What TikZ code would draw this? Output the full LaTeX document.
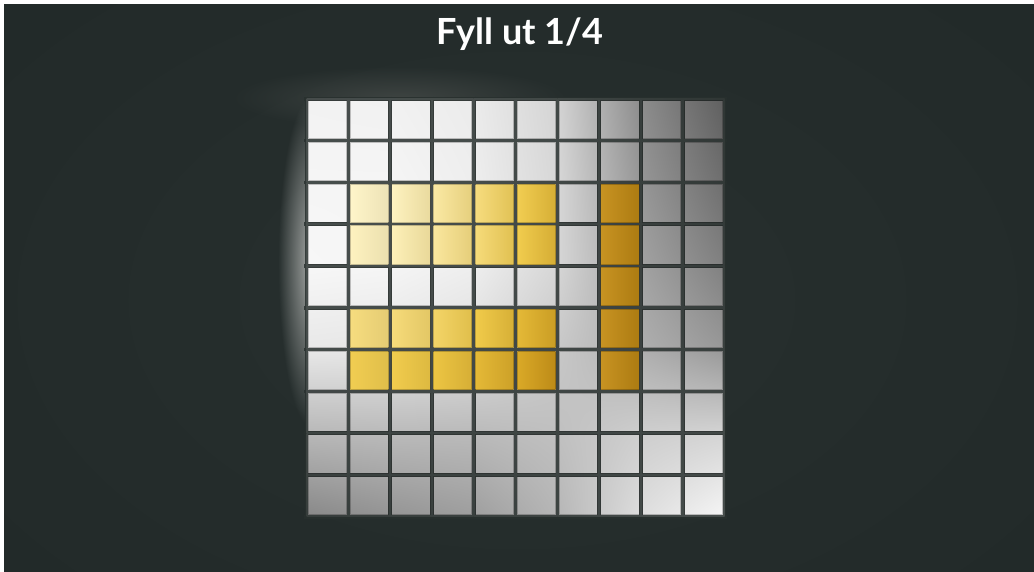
\documentclass[tikz,border=0pt]{standalone}
\usepackage{fontspec}
\setmainfont{Lato}
\usetikzlibrary{calc, shadings, fadings}
\definecolor{colBack}{RGB}{31,39,38}
\definecolor{colHalo}{RGB}{40,48,47}
\definecolor{colGlow}{RGB}{165,168,166}
\definecolor{colGlowTop}{RGB}{62,68,66}
\definecolor{colGap}{RGB}{40,48,46}
\definecolor{colCream}{RGB}{255,246,204}
\definecolor{colGold}{RGB}{240,202,72}
\definecolor{colDeep}{RGB}{214,164,34}
\definecolor{colAmber}{RGB}{196,140,20}
\tikzfading[name=glowFade, inner color=transparent!0, outer color=transparent!100]
\tikzset{
  titleText/.style={
    text=white, font=\fontsize{36}{40}\selectfont\bfseries
  },
  gapLine/.style={
    draw=colGap, draw opacity=0.85, line width=3.6pt
  },
  cellEdge/.style={
    draw=black, draw opacity=0.22, line width=1pt
  }
}
% grey level of the light field at the corners of each 2x2 patch (row by row)
\def\greyVals{{242,241,235,212,140,95,
               245,245,238,215,150,110,
               247,245,238,214,162,128,
               232,230,222,200,175,152,
               184,186,186,192,206,212,
               136,148,158,182,222,246}}
% gold colour at a point of the board (tile units)
\newcommand{\goldShade}[3]{%
  \pgfmathsetmacro{\sd}{veclen(#2-1.3,#3-2.7)}%
  \pgfmathsetmacro{\pa}{100*min(\sd/4,1)*sqrt(min(\sd/4,1))}%
  \pgfmathsetmacro{\pb}{100*min(max(\sd-4,0)/1.6,1)}%
  \pgfmathsetmacro{\pc}{100*min(max(\sd-5.6,0)/0.6,1)}%
  \colorlet{goldA}{colGold!\pa!colCream}%
  \colorlet{goldB}{colDeep!\pb!goldA}%
  \colorlet{#1}{colAmber!\pc!goldB}%
}
\begin{document}
\begin{tikzpicture}[x=1pt, y=-1pt]
  \useasboundingbox (0,0) rectangle (1034,571);
  \fill[white] (0,0) rectangle (1034,571);
  \fill[colBack] (4,4) rectangle (1034,571);

  % background light
  \begin{scope}
    \clip (4,4) rectangle (1034,571);
    \shade[inner color=colHalo, outer color=colBack] (517,300) ellipse (1000 and 640);
    \fill[colGlowTop, path fading=glowFade] (400,98) ellipse (170 and 32);
    \fill[colGlow, path fading=glowFade] (311,262) ellipse (33 and 165);
  \end{scope}

  \node[titleText, anchor=base] (title) at (520,44) {Fyll ut 1/4};

  \begin{scope}[shift={(306.5,98.7)}, x=41.8pt, y=-41.8pt]
    % grey tiles: smooth light field
    \foreach \j in {0,...,4}{
      \foreach \i in {0,...,4}{
        \pgfmathtruncatemacro{\vUL}{\greyVals[6*\j+\i]}
        \pgfmathtruncatemacro{\vUR}{\greyVals[6*\j+\i+1]}
        \pgfmathtruncatemacro{\vLL}{\greyVals[6*\j+\i+6]}
        \pgfmathtruncatemacro{\vLR}{\greyVals[6*\j+\i+7]}
        \definecolor{pUL}{RGB}{\vUL,\vUL,\vUL}
        \definecolor{pUR}{RGB}{\vUR,\vUR,\vUR}
        \definecolor{pLL}{RGB}{\vLL,\vLL,\vLL}
        \definecolor{pLR}{RGB}{\vLR,\vLR,\vLR}
        \shade[upper left=pUL, upper right=pUR, lower left=pLL, lower right=pLR]
          (2*\i,2*\j) rectangle ++(2,2);
      }
    }

    % gaps between the tiles
    \draw[gapLine] foreach \b in {0,...,10} {(\b,-0.05) -- (\b,10.05) (-0.05,\b) -- (10.05,\b)};

    % filled quarter: two bars of ten and one column of five
    \foreach \r in {2,3,5,6}{
      \foreach \c in {1,...,5}{
        \goldShade{gL}{\c+0.1}{\r+0.5}
        \goldShade{gR}{\c+0.9}{\r+0.5}
        \shade[left color=gL, right color=gR!93!black] (\c+0.043,\r+0.043) rectangle ++(0.914,0.914);
      }
    }
    \foreach \r in {2,...,6}{
      \shade[left color=colAmber!94!white, right color=colAmber!88!black] (7.043,\r+0.043) rectangle ++(0.914,0.914);
    }

    % tile rims
    \foreach \r in {0,...,9}{
      \foreach \c in {0,...,9}{
        \draw[cellEdge] (\c+0.043,\r+0.043) rectangle ++(0.914,0.914);
      }
    }
  \end{scope}
\end{tikzpicture}
\end{document}
